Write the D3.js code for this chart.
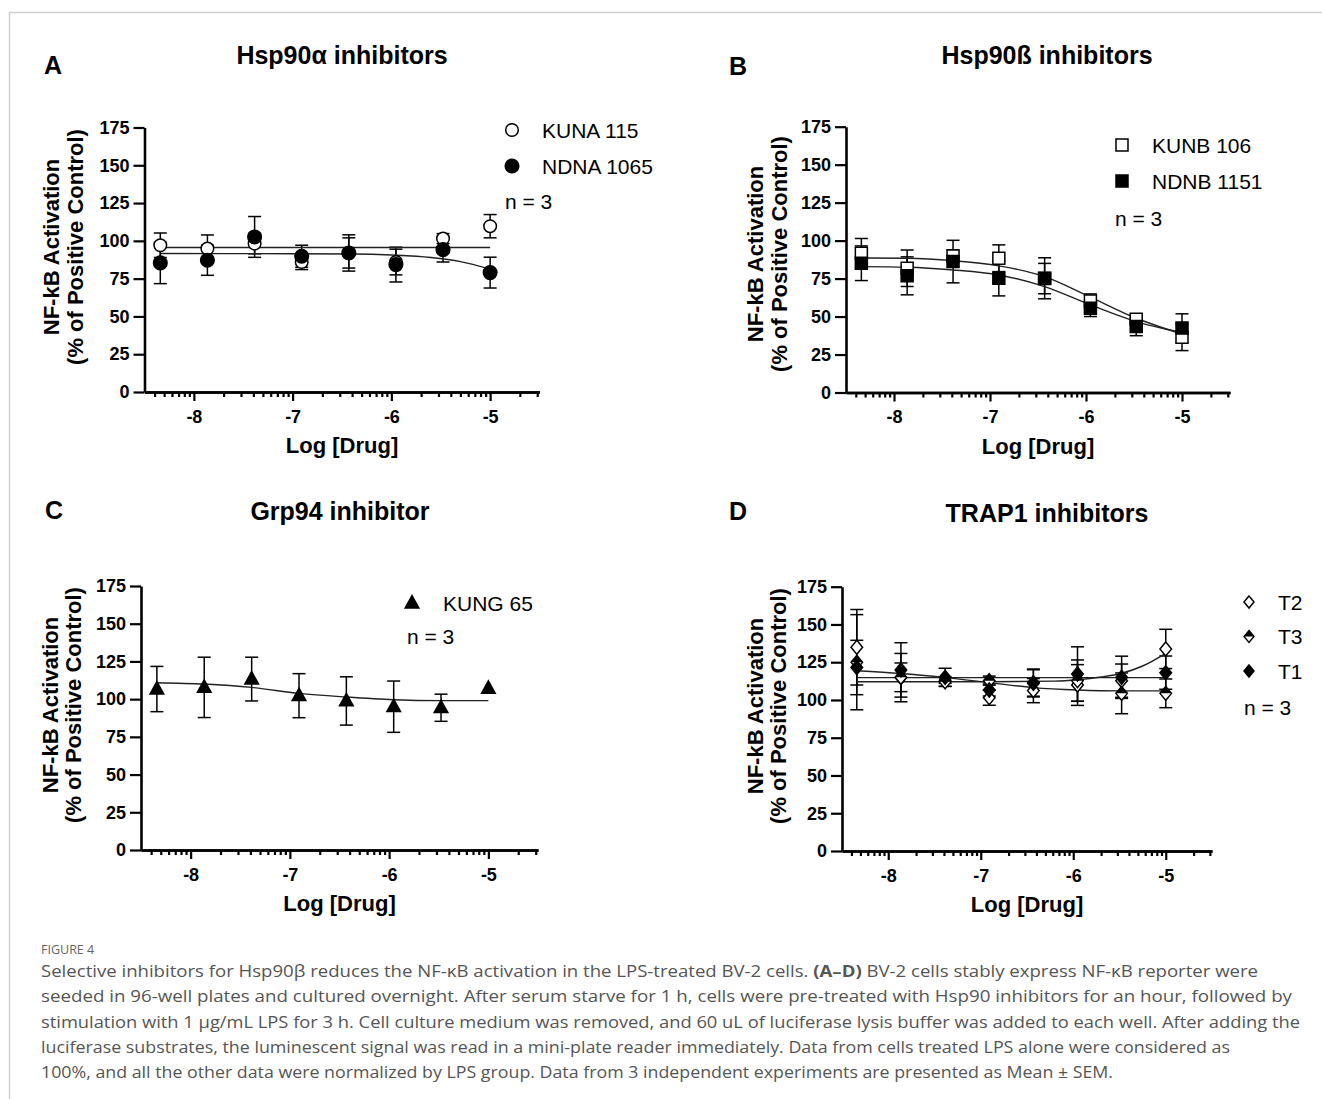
<!DOCTYPE html>
<html>
<head>
<meta charset="utf-8">
<script src="https://cdn.jsdelivr.net/npm/d3@7"></script>
<style>
  body { margin: 0; background: #fff; }
  svg text { font-family: "Liberation Sans", Arial, sans-serif; }
</style>
</head>
<body>
<svg id="fig" width="1322" height="1099"></svg>
<script>
// ---- data ----
var logDose = [-8.34, -7.863, -7.385, -6.908, -6.431, -5.954, -5.477, -5.0];
var yTicks = [0, 25, 50, 75, 100, 125, 150, 175];
var xMajor = [-8, -7, -6, -5];

// A: Hsp90a
var kuna115Mean = [97.1, 94.9, 98.2, 86.0, 92.0, 86.0, 101.5, 109.7];
var kuna115Sem  = [8.1, 9.0, 6.8, 5.0, 10.0, 8.5, 3.3, 7.7];
var ndna1065Mean = [85.4, 87.2, 102.6, 89.8, 92.0, 84.3, 94.2, 79.0];
var ndna1065Sem  = [13.7, 10.0, 13.5, 7.3, 12.0, 11.5, 8.2, 10.2];
var kuna115Fit  = [[-8.34, 95.6], [-5.0, 95.6]];
var ndna1065Fit = [[-8.34, 91.6], [-7.0, 91.5], [-6.4, 91.3], [-6.0, 90.6], [-5.6, 89.0], [-5.3, 86.3], [-5.0, 81.3]];

// B: Hsp90b
var kunb106Mean = [91.7, 81.8, 89.9, 88.4, 75.0, 60.3, 48.3, 36.4];
var kunb106Sem  = [9.7, 12.0, 4.0, 8.8, 10.0, 4.6, 2.7, 8.8];
var ndnb1151Mean = [85.1, 76.8, 86.2, 75.2, 75.2, 55.5, 43.4, 42.4];
var ndnb1151Sem  = [11.4, 12.5, 14.0, 11.6, 13.5, 5.5, 6.0, 9.4];
var kunb106Fit  = [[-8.34, 88.6], [-7.863, 88.4], [-7.385, 86.8], [-6.908, 83.4], [-6.431, 76.3], [-5.954, 62.8], [-5.477, 48.9], [-5.0, 38.5]];
var ndnb1151Fit = [[-8.34, 82.9], [-7.863, 82.5], [-7.385, 80.7], [-6.908, 77.4], [-6.431, 69.7], [-5.954, 57.7], [-5.477, 46.7], [-5.0, 39.5]];

// C: Grp94
var kung65Mean = [106.7, 107.8, 113.3, 102.3, 98.8, 95.0, 94.3, 107.2];
var kung65Sem  = [15.0, 20.0, 14.5, 14.6, 16.0, 17.0, 9.0, 0];
var kung65Fit  = [[-8.34, 110.9], [-7.863, 110.0], [-7.385, 107.8], [-6.908, 103.8], [-6.431, 101.4], [-5.954, 99.6], [-5.477, 99.0], [-5.0, 99.0]];

// D: TRAP1
var t2Mean = [134.9, 114.8, 113.0, 101.5, 106.2, 109.9, 112.8, 133.8];
var t2Sem  = [25.0, 16.0, 2.0, 5.0, 8.0, 13.5, 11.0, 13.0];
var t3Mean = [125.0, 115.0, 112.0, 112.8, 111.5, 112.8, 104.4, 104.4];
var t3Sem  = [31.5, 9.5, 3.0, 3.0, 9.0, 13.7, 13.5, 9.5];
var t1Mean = [121.5, 119.9, 115.0, 106.6, 111.0, 117.2, 115.0, 118.1];
var t1Sem  = [18.0, 18.0, 6.0, 4.0, 9.0, 18.0, 14.0, 11.0];
var t2Fit = [[-8.34, 112.1], [-6.9, 112.1], [-6.2, 112.5], [-5.954, 113.4], [-5.7, 115.2], [-5.477, 117.7], [-5.25, 122.5], [-5.0, 130.9]];
var t3Fit = [[-8.34, 119.4], [-7.863, 117.5], [-7.385, 114.8], [-6.908, 111.5], [-6.431, 108.2], [-5.954, 106.6], [-5.477, 106.0], [-5.0, 106.0]];
var t1Fit = [[-8.34, 114.8], [-5.0, 114.8]];

var captionLines = [
  "Selective inhibitors for Hsp90β reduces the NF-κB activation in the LPS-treated BV-2 cells. |(A–D)| BV-2 cells stably express NF-κB reporter were",
  "seeded in 96-well plates and cultured overnight. After serum starve for 1 h, cells were pre-treated with Hsp90 inhibitors for an hour, followed by",
  "stimulation with 1 μg/mL LPS for 3 h. Cell culture medium was removed, and 60 uL of luciferase lysis buffer was added to each well. After adding the",
  "luciferase substrates, the luminescent signal was read in a mini-plate reader immediately. Data from cells treated LPS alone were considered as",
  "100%, and all the other data were normalized by LPS group. Data from 3 independent experiments are presented as Mean ± SEM."
];
var captionWidths = [1217, 1251, 1259, 1189, 1072];

var svg = d3.select("#fig");

// frame
svg.append("path")
  .attr("d", "M9.5,1099 V12.5 H1322")
  .attr("fill", "none").attr("stroke", "#d0d0d0").attr("stroke-width", 1.5);

// marker shapes
function markerPath(shape, s) {
  if (shape === "circle") return d3.symbol(d3.symbolCircle, Math.PI * s * s)();
  if (shape === "square") return "M" + (-s) + "," + (-s) + "H" + s + "V" + s + "H" + (-s) + "Z";
  if (shape === "triangle") return "M0," + (-s * 1.15) + "L" + (s * 1.05) + "," + (s * 0.75) + "H" + (-s * 1.05) + "Z";
  // diamond
  return "M0," + (-s * 1.2) + "L" + s + ",0L0," + (s * 1.2) + "L" + (-s) + ",0Z";
}

function drawMarker(g, shape, style, s) {
  if (style === "half") {
    g.append("path").attr("d", markerPath(shape, s))
      .attr("fill", "#fff").attr("stroke", "#000").attr("stroke-width", 1.4);
    g.append("path").attr("d", "M0," + (-s * 1.2) + "L" + s + ",0H" + (-s) + "Z")
      .attr("fill", "#000");
    return;
  }
  g.append("path").attr("d", markerPath(shape, s))
    .attr("fill", style === "open" ? "#fff" : "#000")
    .attr("stroke", "#000").attr("stroke-width", 1.5);
}

function minorTicks(domain) {
  var out = [];
  for (var d = -9; d <= -5; d++) {
    for (var k = 2; k <= 9; k++) {
      var v = d + Math.log10(k);
      if (v > domain[0] && v < domain[1]) out.push(v);
    }
  }
  return out;
}

function drawPanel(p) {
  var x = d3.scaleLinear().domain([-8.5, -4.5]).range(p.xr);
  var y = d3.scaleLinear().domain([0, 175]).range(p.yr);
  var g = svg.append("g");

  // y axis
  g.append("g").attr("transform", "translate(" + p.xr[0] + ",0)")
    .call(d3.axisLeft(y).tickValues(yTicks).tickSize(11).tickSizeOuter(0).tickPadding(4));
  // x axis minor
  g.append("g").attr("transform", "translate(0," + p.yr[0] + ")")
    .call(d3.axisBottom(x).tickValues(minorTicks([-8.5, -4.5])).tickSize(5).tickSizeOuter(0).tickFormat(""));
  // x axis major
  g.append("g").attr("transform", "translate(0," + p.yr[0] + ")")
    .call(d3.axisBottom(x).tickValues(xMajor).tickSize(9).tickSizeOuter(0).tickPadding(9)
      .tickFormat(function(d) { return String(d); }));
  g.selectAll(".domain").attr("stroke", "#000").attr("stroke-width", 2.6);
  g.selectAll(".tick line").attr("stroke", "#000").attr("stroke-width", 2.2);
  g.selectAll(".tick text").attr("fill", "#000")
    .style("font-family", "'Liberation Sans', Arial, sans-serif")
    .style("font-size", "18px").style("font-weight", "bold");

  // axis titles
  g.append("text").attr("x", (p.xr[0] + p.xr[1]) / 2).attr("y", p.yr[0] + 61)
    .attr("text-anchor", "middle").style("font-size", "22px").style("font-weight", "bold")
    .text("Log [Drug]");
  g.append("text").attr("transform", "translate(" + (p.xr[0] + p.ylab[0]) + "," + p.ylab[2] + ") rotate(-90)")
    .attr("text-anchor", "middle").style("font-size", "22px").style("font-weight", "bold")
    .text("NF-kB Activation");
  g.append("text").attr("transform", "translate(" + (p.xr[0] + p.ylab[1]) + "," + p.ylab[2] + ") rotate(-90)")
    .attr("text-anchor", "middle").style("font-size", "22px").style("font-weight", "bold")
    .text("(% of Positive Control)");

  // title + letter
  g.append("text").attr("x", p.title[1]).attr("y", p.title[2])
    .attr("text-anchor", "middle").style("font-size", "25px").style("font-weight", "bold")
    .text(p.title[0]);
  g.append("text").attr("x", p.letter[1]).attr("y", p.letter[2])
    .style("font-size", "25px").style("font-weight", "bold").text(p.letter[0]);

  var line = d3.line().x(function(d) { return x(d[0]); }).y(function(d) { return y(d[1]); })
    .curve(d3.curveMonotoneX);

  p.series.forEach(function(s) {
    // error bars
    var eb = g.append("g").selectAll("g").data(logDose.map(function(v, i) {
      return { x: v, m: s.mean[i], e: s.sem[i] };
    }).filter(function(d) { return d.e > 0; })).enter().append("g")
      .attr("stroke", "#000").attr("stroke-width", 1.5);
    eb.append("line").attr("x1", function(d) { return x(d.x); }).attr("x2", function(d) { return x(d.x); })
      .attr("y1", function(d) { return y(d.m - d.e); }).attr("y2", function(d) { return y(d.m + d.e); });
    eb.append("line").attr("x1", function(d) { return x(d.x) - 6.5; }).attr("x2", function(d) { return x(d.x) + 6.5; })
      .attr("y1", function(d) { return y(d.m + d.e); }).attr("y2", function(d) { return y(d.m + d.e); });
    eb.append("line").attr("x1", function(d) { return x(d.x) - 6.5; }).attr("x2", function(d) { return x(d.x) + 6.5; })
      .attr("y1", function(d) { return y(d.m - d.e); }).attr("y2", function(d) { return y(d.m - d.e); });
  });
  p.series.forEach(function(s) {
    g.append("path").attr("d", line(s.fit)).attr("fill", "none")
      .attr("stroke", "#222").attr("stroke-width", 1.4);
  });
  p.series.forEach(function(s) {
    logDose.forEach(function(v, i) {
      var mg = g.append("g").attr("transform", "translate(" + x(v) + "," + y(s.mean[i]) + ")");
      drawMarker(mg, s.shape, s.style, s.size);
    });
  });

  // legend
  var lg = g.append("g");
  p.series.forEach(function(s, i) {
    var cy = p.leg.y0 + i * p.leg.dy;
    var mg = lg.append("g").attr("transform", "translate(" + p.leg.mx + "," + cy + ")");
    drawMarker(mg, s.shape, s.style, s.legSize || s.size);
    lg.append("text").attr("x", p.leg.tx).attr("y", cy + 7.5)
      .style("font-size", "21px").text(s.name);
  });
  lg.append("text").attr("x", p.leg.nx).attr("y", p.leg.ny)
    .style("font-size", "21px").text("n = 3");
}

drawPanel({
  xr: [144.5, 539.5], yr: [392, 127.5], ylab: [-86, -62, 247],
  title: ["Hsp90α inhibitors", 342, 64], letter: ["A", 44, 74],
  leg: { mx: 512, tx: 542, y0: 130, dy: 36, nx: 505, ny: 209 },
  series: [
    { name: "KUNA 115", mean: kuna115Mean, sem: kuna115Sem, fit: kuna115Fit, shape: "circle", style: "open", size: 6.3 },
    { name: "NDNA 1065", mean: ndna1065Mean, sem: ndna1065Sem, fit: ndna1065Fit, shape: "circle", style: "filled", size: 6.8 }
  ]
});

drawPanel({
  xr: [846, 1230], yr: [392.5, 126.7], ylab: [-83, -59, 254],
  title: ["Hsp90ß inhibitors", 1047, 64], letter: ["B", 729, 75],
  leg: { mx: 1122, tx: 1152, y0: 145, dy: 36, nx: 1115, ny: 226 },
  series: [
    { name: "KUNB 106", mean: kunb106Mean, sem: kunb106Sem, fit: kunb106Fit, shape: "square", style: "open", size: 6 },
    { name: "NDNB 1151", mean: ndnb1151Mean, sem: ndnb1151Sem, fit: ndnb1151Fit, shape: "square", style: "filled", size: 6 }
  ]
});

drawPanel({
  xr: [141, 538], yr: [850, 586], ylab: [-83, -60, 705],
  title: ["Grp94 inhibitor", 340, 520], letter: ["C", 45, 519],
  leg: { mx: 412, tx: 443, y0: 603, dy: 36, nx: 407, ny: 644 },
  series: [
    { name: "KUNG 65", mean: kung65Mean, sem: kung65Sem, fit: kung65Fit, shape: "triangle", style: "filled", size: 6.5 }
  ]
});

drawPanel({
  xr: [842, 1212], yr: [851, 586.7], ylab: [-79, -56, 706],
  title: ["TRAP1 inhibitors", 1047, 522], letter: ["D", 729, 520],
  leg: { mx: 1249, tx: 1278, y0: 602, dy: 34.5, nx: 1244, ny: 715 },
  series: [
    { name: "T2", mean: t2Mean, sem: t2Sem, fit: t2Fit, shape: "diamond", style: "open", size: 5.8, legSize: 5 },
    { name: "T3", mean: t3Mean, sem: t3Sem, fit: t3Fit, shape: "diamond", style: "half", size: 5.8, legSize: 5 },
    { name: "T1", mean: t1Mean, sem: t1Sem, fit: t1Fit, shape: "diamond", style: "filled", size: 5.8, legSize: 5 }
  ]
});

// caption
svg.append("text").attr("x", 41).attr("y", 954)
  .style("font-family", "'Open Sans', sans-serif").style("font-size", "12.5px")
  .attr("fill", "#666").text("FIGURE 4");
captionLines.forEach(function(l, i) {
  var t = svg.append("text").attr("x", 41).attr("y", 977 + i * 25.3)
    .attr("textLength", captionWidths[i]).attr("lengthAdjust", "spacingAndGlyphs")
    .style("font-family", "'Open Sans', sans-serif").style("font-size", "16px")
    .attr("fill", "#555");
  l.split("|").forEach(function(part, j) {
    t.append("tspan").style("font-weight", j === 1 ? "bold" : "normal").text(part);
  });
});
</script>
</body>
</html>
